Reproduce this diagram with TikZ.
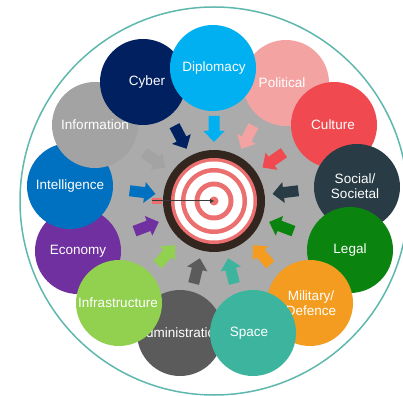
\documentclass[tikz,border=0pt]{standalone}
\usepackage{fontspec}
\setmainfont{Liberation Sans}
\usetikzlibrary{arrows.meta}
\definecolor{cDip}{HTML}{00B0F0}
\definecolor{cCyb}{HTML}{002060}
\definecolor{cPol}{HTML}{F4A3A3}
\definecolor{cCul}{HTML}{F04A50}
\definecolor{cSoc}{HTML}{293C46}
\definecolor{cLeg}{HTML}{0A840F}
\definecolor{cMil}{HTML}{F39C1F}
\definecolor{cSpa}{HTML}{3CB49E}
\definecolor{cAdm}{HTML}{5B5B5B}
\definecolor{cInf}{HTML}{92D050}
\definecolor{cEco}{HTML}{7030A0}
\definecolor{cInt}{HTML}{0070C0}
\definecolor{cInfo}{HTML}{A3A3A3}
\definecolor{diskgray}{HTML}{ABABAB}
\definecolor{rimteal}{HTML}{5FB8AD}
\definecolor{tdark}{HTML}{33261F}
\definecolor{tpink}{HTML}{EC6F6F}
\definecolor{dartgray}{HTML}{3A3A3A}
\begin{document}
\begin{tikzpicture}[x=1pt,y=1pt,
  lab/.style={text=white, font=\fontsize{13.5}{15.5}\selectfont, align=center, inner sep=0pt},
  bubble/.style={fill=#1}]
\useasboundingbox (0,0) rectangle (403,395);
\clip (0,0) rectangle (403,395);
\fill[white] (0,0) rectangle (403,395);
\coordinate (C) at (214,194);
\draw[rimteal, line width=1.5pt] (C) circle (194);
\fill[diskgray] (C) circle (120);
% block arrows pointing to the centre
\foreach \a/\c in {90/cDip, 62.31/cPol, 34.62/cCul, 6.92/cSoc, -20.77/cLeg, -48.46/cMil,
  -76.15/cSpa, -103.85/cAdm, -131.54/cInf, -159.23/cEco, 173.08/cInt, 145.38/cInfo, 117.69/cCyb}{
  \begin{scope}[shift={(C)}, rotate=\a]
    \fill[\c] (85,-5.5) -- (70,-5.5) -- (70,-10.5) -- (59,0) -- (70,10.5) -- (70,5.5) -- (85,5.5) -- cycle;
  \end{scope}
}
% target
\fill[tdark] (C) circle (51);
\fill[tpink] (C) circle (43);
\fill[white] (C) circle (39.5);
\fill[tpink] (C) circle (33);
\fill[white] (C) circle (28.5);
\fill[tpink] (C) circle (19.5);
\fill[white] (C) circle (14.5);
\fill[tpink] (C) circle (4.5);
% dart
\coordinate (tail) at (152,194);
\fill[tpink] (151.5,191) rectangle (161.5,197);
\draw[dartgray, line width=1pt, -{Triangle[length=4pt,width=4pt]}] (tail) -- (C);
% bubbles (drawn in stacking order)
\fill[bubble=cEco] (78,144) circle (43);
\node[lab] (eco) at (78,144) {Economy};
\fill[bubble=cInt] (70,209) circle (43);
\node[lab] (int) at (70,209) {Intelligence};
\fill[bubble=cInfo] (95,270) circle (43);
\node[lab] (info) at (95,270) {Information};
\fill[bubble=cCyb] (143,313) circle (43);
\node[lab] (cyb) at (147,313) {Cyber};
\fill[bubble=cPol] (286,312) circle (43);
\node[lab] (pol) at (282,312) {Political};
\fill[bubble=cCul] (334,270) circle (43);
\node[lab] (cul) at (333,270) {Culture};
\fill[bubble=cSoc] (357,208) circle (43);
\node[lab] (soc) at (355,209) {Social/\\Societal};
\fill[bubble=cLeg] (350,145) circle (43);
\node[lab] (leg) at (350,145) {Legal};
\fill[bubble=cMil] (310,92) circle (43);
\node[lab] (mil) at (311,92) {Military/\\Defence};
\fill[bubble=cAdm] (180,62) circle (43);
\node[lab] (adm) at (180,62) {Administration};
\fill[bubble=cSpa] (253,62) circle (43);
\node[lab] (spa) at (249,62) {Space};
\fill[bubble=cInf] (119,92) circle (43);
\node[lab] (inf) at (118,92) {Infrastructure};
\fill[bubble=cDip] (213,327) circle (43);
\node[lab] (dip) at (214,327) {Diplomacy};
\end{tikzpicture}
\end{document}
